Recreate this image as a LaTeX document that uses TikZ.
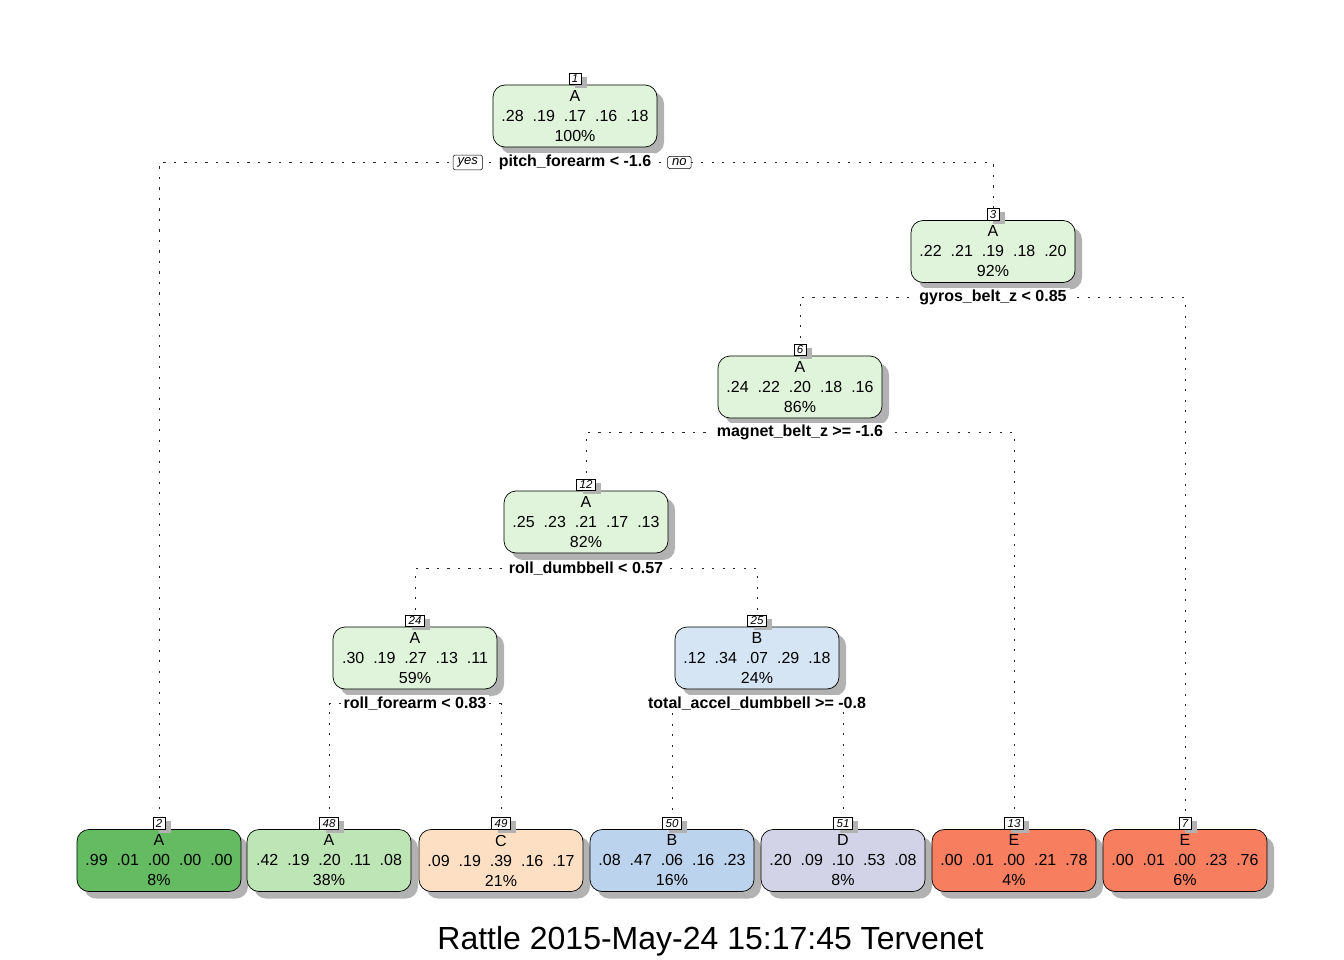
\documentclass[tikz,border=0pt]{standalone}
\usepackage{fontspec}
\setmainfont{Liberation Sans}
\usetikzlibrary{shadows,backgrounds}
\definecolor{gA}{HTML}{E0F3DB}
\definecolor{gAdark}{HTML}{64BB62}
\definecolor{gAmid}{HTML}{BDE5B5}
\definecolor{oC}{HTML}{FDDFC4}
\definecolor{bBlight}{HTML}{D6E5F4}
\definecolor{bB}{HTML}{BBD3EC}
\definecolor{pD}{HTML}{D3D3E7}
\definecolor{rE}{HTML}{F87E60}
\newcommand\probs[5]{#1\hspace{.56em}#2\hspace{.56em}#3\hspace{.56em}#4\hspace{.56em}#5}
\tikzset{
  box/.style={draw=black, line width=0.7pt, rounded corners=12pt,
    minimum width=164pt, minimum height=62pt, align=center, inner sep=0pt,
    font=\fontsize{16}{20}\selectfont,
    drop shadow={shadow xshift=7pt, shadow yshift=-7pt, fill=black!30, opacity=1}},
  tag/.style={draw=black, fill=white, line width=0.5pt, inner xsep=3pt, inner ysep=0pt,
    minimum height=11.5pt, font=\fontsize{11.5}{11.5}\selectfont\itshape, anchor=south,
    drop shadow={shadow xshift=6pt, shadow yshift=-4pt, fill=black!30, opacity=1}},
  split/.style={fill=white, inner xsep=3pt, inner ysep=2pt, font=\fontsize{16}{18}\selectfont\bfseries},
  yn/.style={draw=black, fill=white, line width=0.5pt, rounded corners=1.5pt, inner xsep=4.5pt, inner ysep=2.5pt,
    font=\fontsize{13}{13}\selectfont\itshape},
  conn/.style={dash pattern=on 2.2pt off 8.3pt, line width=1pt, black!85}
}
\begin{document}
\begin{tikzpicture}[x=1pt,y=-1pt]
\useasboundingbox (0,0) rectangle (1344,960);
% internal nodes
\node[box, fill=gA] (n1) at (575,116) {A\\\probs{.28}{.19}{.17}{.16}{.18}\\100\%};
\node[tag] (t1) at (n1.north) {1};
\node[split] (s1) at (575,162.5) {pitch\_forearm < -1.6};
\node[yn, anchor=east] (yes1) at ([xshift=-13pt]s1.west) {yes};
\node[yn, anchor=west] (no1) at ([xshift=13pt]s1.east) {no};

\node[box, fill=gA] (n3) at (993,251.5) {A\\\probs{.22}{.21}{.19}{.18}{.20}\\92\%};
\node[tag] (t3) at (n3.north) {3};
\node[split] (s3) at (993,297.5) {gyros\_belt\_z < 0.85};

\node[box, fill=gA] (n6) at (800,387) {A\\\probs{.24}{.22}{.20}{.18}{.16}\\86\%};
\node[tag] (t6) at (n6.north) {6};
\node[split] (s6) at (800,432.5) {magnet\_belt\_z >= -1.6};

\node[box, fill=gA] (n12) at (586,522) {A\\\probs{.25}{.23}{.21}{.17}{.13}\\82\%};
\node[tag] (t12) at (n12.north) {12};
\node[split] (s12) at (586,568.5) {roll\_dumbbell < 0.57};

\node[box, fill=gA] (n24) at (415,658) {A\\\probs{.30}{.19}{.27}{.13}{.11}\\59\%};
\node[tag] (t24) at (n24.north) {24};
\node[split] (s24) at (415,703.5) {roll\_forearm < 0.83};

\node[box, fill=bBlight] (n25) at (757,658) {B\\\probs{.12}{.34}{.07}{.29}{.18}\\24\%};
\node[tag] (t25) at (n25.north) {25};
\node[split] (s25) at (757,703.5) {total\_accel\_dumbbell >= -0.8};

% leaves
\node[box, fill=gAdark] (n2) at (159,860.5) {A\\\probs{.99}{.01}{.00}{.00}{.00}\\8\%};
\node[tag] (t2) at (n2.north) {2};
\node[box, fill=gAmid] (n48) at (329,860.5) {A\\\probs{.42}{.19}{.20}{.11}{.08}\\38\%};
\node[tag] (t48) at (n48.north) {48};
\node[box, fill=oC] (n49) at (501,860.5) {C\\\probs{.09}{.19}{.39}{.16}{.17}\\21\%};
\node[tag] (t49) at (n49.north) {49};
\node[box, fill=bB] (n50) at (672,860.5) {B\\\probs{.08}{.47}{.06}{.16}{.23}\\16\%};
\node[tag] (t50) at (n50.north) {50};
\node[box, fill=pD] (n51) at (843,860.5) {D\\\probs{.20}{.09}{.10}{.53}{.08}\\8\%};
\node[tag] (t51) at (n51.north) {51};
\node[box, fill=rE] (n13) at (1014,860.5) {E\\\probs{.00}{.01}{.00}{.21}{.78}\\4\%};
\node[tag] (t13) at (n13.north) {13};
\node[box, fill=rE] (n7) at (1185,860.5) {E\\\probs{.00}{.01}{.00}{.23}{.76}\\6\%};
\node[tag] (t7) at (n7.north) {7};

% title
\node[font=\fontsize{32}{36}\selectfont] (title) at (710.5,941) {Rattle 2015-May-24 15:17:45 Tervenet};

% connectors
\begin{scope}[on background layer]
\fill[white] (0,0) rectangle (1344,960);
\draw[conn] (s1.center) -| (t2.north);
\draw[conn] (s1.center) -| (t3.north);
\draw[conn] (s3.center) -| (t6.north);
\draw[conn] (s3.center) -| (t7.north);
\draw[conn] (s6.center) -| (t12.north);
\draw[conn] (s6.center) -| (t13.north);
\draw[conn] (s12.center) -| (t24.north);
\draw[conn] (s12.center) -| (t25.north);
\draw[conn] (s24.center) -| (t48.north);
\draw[conn] (s24.center) -| (t49.north);
\draw[conn] (s25.center) -| (t50.north);
\draw[conn] (s25.center) -| (t51.north);
\end{scope}
\end{tikzpicture}
\end{document}
